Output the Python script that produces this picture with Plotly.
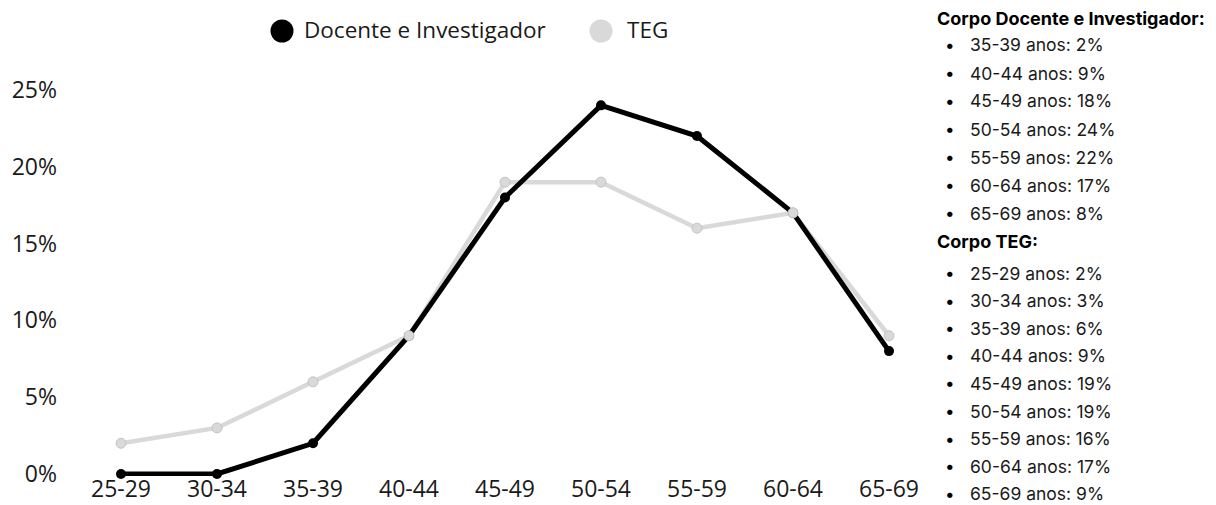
import plotly.graph_objects as go

categories = ["25-29", "30-34", "35-39", "40-44", "45-49", "50-54", "55-59", "60-64", "65-69"]
docente = [0, 0, 2, 9, 18, 24, 22, 17, 8]
teg = [2, 3, 6, 9, 19, 19, 16, 17, 9]
y_ticks = [0, 5, 10, 15, 20, 25]
y_tick_text = ["0%", "5%", "10%", "15%", "20%", "25%"]
name_docente = "Docente e Investigador"
name_teg = "TEG"
title_docente = "Corpo Docente e Investigador:"
title_teg = "Corpo TEG:"

W, H = 1216, 505
L, R, T, B = 73, 279, 78, 29
PW, PH = W - L - R, H - T - B

BLACK = "#000000"
GRAY = "#d9d9d9"
TXT = "#1a1a1a"


def px(x):
    return (x - L) / PW


def py(y):
    return (H - B - y) / PH


fig = go.Figure()
# gray line under black line
fig.add_trace(go.Scatter(x=categories, y=teg, mode="lines", line=dict(color=GRAY, width=4.5),
                         showlegend=False, hoverinfo="skip", cliponaxis=False))
fig.add_trace(go.Scatter(x=categories, y=docente, mode="lines+markers", name=name_docente,
                         line=dict(color=BLACK, width=5),
                         marker=dict(color=BLACK, size=10), showlegend=False, cliponaxis=False))
fig.add_trace(go.Scatter(x=categories, y=teg, mode="markers", name=name_teg,
                         marker=dict(color=GRAY, size=10, line=dict(color="#c4c4c4", width=1)),
                         showlegend=False, cliponaxis=False))

shapes = []
annotations = []

# manual legend
legend_items = [(name_docente, BLACK, 282, 302), (name_teg, GRAY, 601, 625)]
for label, col, cx, tx in legend_items:
    shapes.append(dict(type="circle", xref="paper", yref="paper", xsizemode="pixel", ysizemode="pixel",
                       xanchor=px(cx), yanchor=py(31), x0=-11.5, x1=11.5, y0=-11.5, y1=11.5,
                       fillcolor=col, line=dict(width=0)))
    annotations.append(dict(text=label, x=px(tx), y=py(30), xref="paper", yref="paper",
                            xanchor="left", yanchor="middle", showarrow=False,
                            font=dict(family="Open Sans", size=22.5, color=TXT)))

# right-side list
LIST_FONT = "Inter"


def add_block(title, y_title, cats, vals, y0, step):
    annotations.append(dict(text="<b>" + title + "</b>", x=px(935), y=py(y_title), xref="paper", yref="paper",
                            xanchor="left", yanchor="middle", showarrow=False,
                            font=dict(family=LIST_FONT, size=18, color="#000000")))
    i = 0
    for c, v in zip(cats, vals):
        if v == 0:
            continue
        yy = y0 + step * i
        annotations.append(dict(text="•", x=px(950), y=py(yy), xref="paper", yref="paper",
                                xanchor="center", yanchor="middle", showarrow=False,
                                font=dict(family=LIST_FONT, size=17, color="#000000")))
        annotations.append(dict(text=f"{c} anos: {v}%", x=px(968), y=py(yy), xref="paper", yref="paper",
                                xanchor="left", yanchor="middle", showarrow=False,
                                font=dict(family=LIST_FONT, size=17.5, color="#1a1a1a")))
        i += 1


add_block(title_docente, 18, categories, docente, 45, 28)
add_block(title_teg, 241, categories, teg, 273, 27.6)

fig.update_layout(
    width=W, height=H,
    margin=dict(l=L, r=R, t=T, b=B, pad=0, autoexpand=False),
    paper_bgcolor="white", plot_bgcolor="white",
    showlegend=False,
    shapes=shapes, annotations=annotations,
    font=dict(family="Open Sans", color=TXT, size=23),
    xaxis=dict(type="category", range=[-0.5, 8.5], showgrid=False, zeroline=False, showline=False,
               automargin=False, ticks="", ticklabelstandoff=-3,
               tickfont=dict(size=23, family="Open Sans", color=TXT)),
    yaxis=dict(range=[-0.13, 25.78], tickvals=y_ticks, ticktext=y_tick_text, showgrid=False,
               automargin=False, zeroline=False, showline=False, ticks="", ticklabelstandoff=15,
               tickfont=dict(size=23, family="Open Sans", color=TXT)),
)

fig.write_html("out.html", config={"displayModeBar": False},
               post_script="document.body.style.margin='0';")
